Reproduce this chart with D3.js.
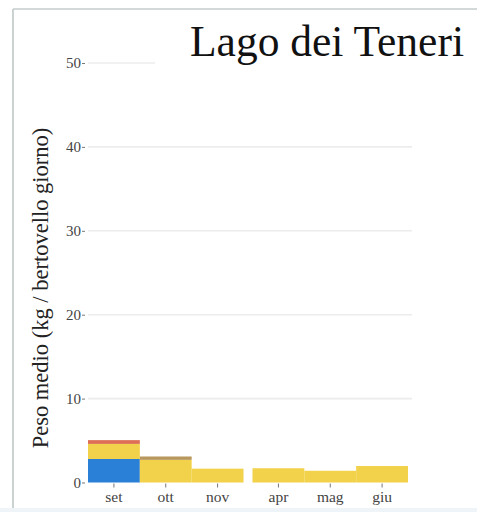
<!DOCTYPE html>
<html>
<head>
<meta charset="utf-8">
<script src="https://d3js.org/d3.v7.min.js"></script>
<style>
  body { margin: 0; background: #fff; }
  text { font-family: "Liberation Serif", "DejaVu Serif", serif; }
</style>
</head>
<body>
<svg width="477" height="515"></svg>
<script>
// months (autumn then spring)
const months = ["set", "ott", "nov", "apr", "mag", "giu"];
const autumn = ["set", "ott", "nov"];
// stacked components, bottom to top
const keys = ["blu", "giallo", "bruno", "rosso"];
const blu    = [2.8, 0,   0,    0,   0,   0];
const giallo = [1.8, 2.7, 1.65, 1.7, 1.4, 1.97];
const bruno  = [0,   0.4, 0,    0,   0,   0];
const rosso  = [0.45, 0,  0,    0,   0,   0];
const yTicks = [0, 10, 20, 30, 40, 50];

const colors = { blu: "#2a7fd6", giallo: "#f2d24a", bruno: "#b8975c", rosso: "#de6f55" };

const rows = months.map((m, i) => ({ mese: m, blu: blu[i], giallo: giallo[i], bruno: bruno[i], rosso: rosso[i] }));

const svg = d3.select("svg");
const left = 88, right = 408, gap = 9;

const x = d3.scaleBand().domain(months).range([left, right - gap]).paddingInner(0).paddingOuter(0);
const xs = m => x(m) + (autumn.includes(m) ? 0 : gap);
const y = d3.scaleLinear().domain([0, 50]).range([482.5, 63]);

// frame
svg.append("line").attr("x1", 13).attr("x2", 13).attr("y1", 9).attr("y2", 508)
  .attr("stroke", "#b9c5c2").attr("stroke-width", 1.5);
svg.append("line").attr("x1", 13).attr("x2", 477).attr("y1", 9).attr("y2", 9)
  .attr("stroke", "#c3cdcb").attr("stroke-width", 1.5);
svg.append("rect").attr("x", 0).attr("y", 508).attr("width", 477).attr("height", 4)
  .attr("fill", "#eef4f8");

// gridlines
svg.append("g").selectAll("line").data(yTicks.filter(d => d > 0)).join("line")
  .attr("x1", left).attr("x2", 412)
  .attr("y1", d => y(d)).attr("y2", d => y(d))
  .attr("stroke", "#ececec").attr("stroke-width", 1.6);

// bars
const stack = d3.stack().keys(keys)(rows);
svg.append("g").selectAll("g").data(stack).join("g")
  .attr("fill", d => colors[d.key])
  .selectAll("rect").data(d => d.filter(v => v[1] > v[0])).join("rect")
  .attr("x", d => xs(d.data.mese))
  .attr("width", x.bandwidth())
  .attr("y", d => y(d[1]))
  .attr("height", d => y(d[0]) - y(d[1]));

// y axis
const ya = svg.append("g").attr("transform", "translate(" + (left - 3) + ",0)")
  .call(d3.axisLeft(y).tickValues(yTicks).tickSize(3).tickPadding(1).tickFormat(d3.format("d")))
  .attr("font-family", "Liberation Serif, serif");
ya.select(".domain").remove();
ya.selectAll(".tick line").attr("stroke", "#777");
ya.selectAll(".tick text").attr("fill", "#444").attr("font-size", 15);

// x axis
const xa = svg.append("g").attr("transform", "translate(0," + (y(0) + 1) + ")");
xa.selectAll("g").data(months).join("g")
  .attr("transform", m => "translate(" + (xs(m) + x.bandwidth() / 2) + ",0)")
  .call(g => g.append("line").attr("y2", 4).attr("stroke", "#777"))
  .call(g => g.append("text").attr("y", 18).attr("text-anchor", "middle")
    .attr("fill", "#444").attr("font-size", 15.5).text(m => m));

// y title
svg.append("text")
  .attr("transform", "translate(48,288) rotate(-90)")
  .attr("text-anchor", "middle")
  .attr("font-size", 22.5).attr("fill", "#222")
  .text("Peso medio (kg / bertovello giorno)");

// title with white background
svg.append("rect").attr("x", 155).attr("y", 18).attr("width", 318).attr("height", 54).attr("fill", "#fff");
svg.append("text").attr("x", 464).attr("y", 56).attr("text-anchor", "end")
  .attr("font-size", 43.5).attr("fill", "#111")
  .text("Lago dei Teneri");
</script>
</body>
</html>
